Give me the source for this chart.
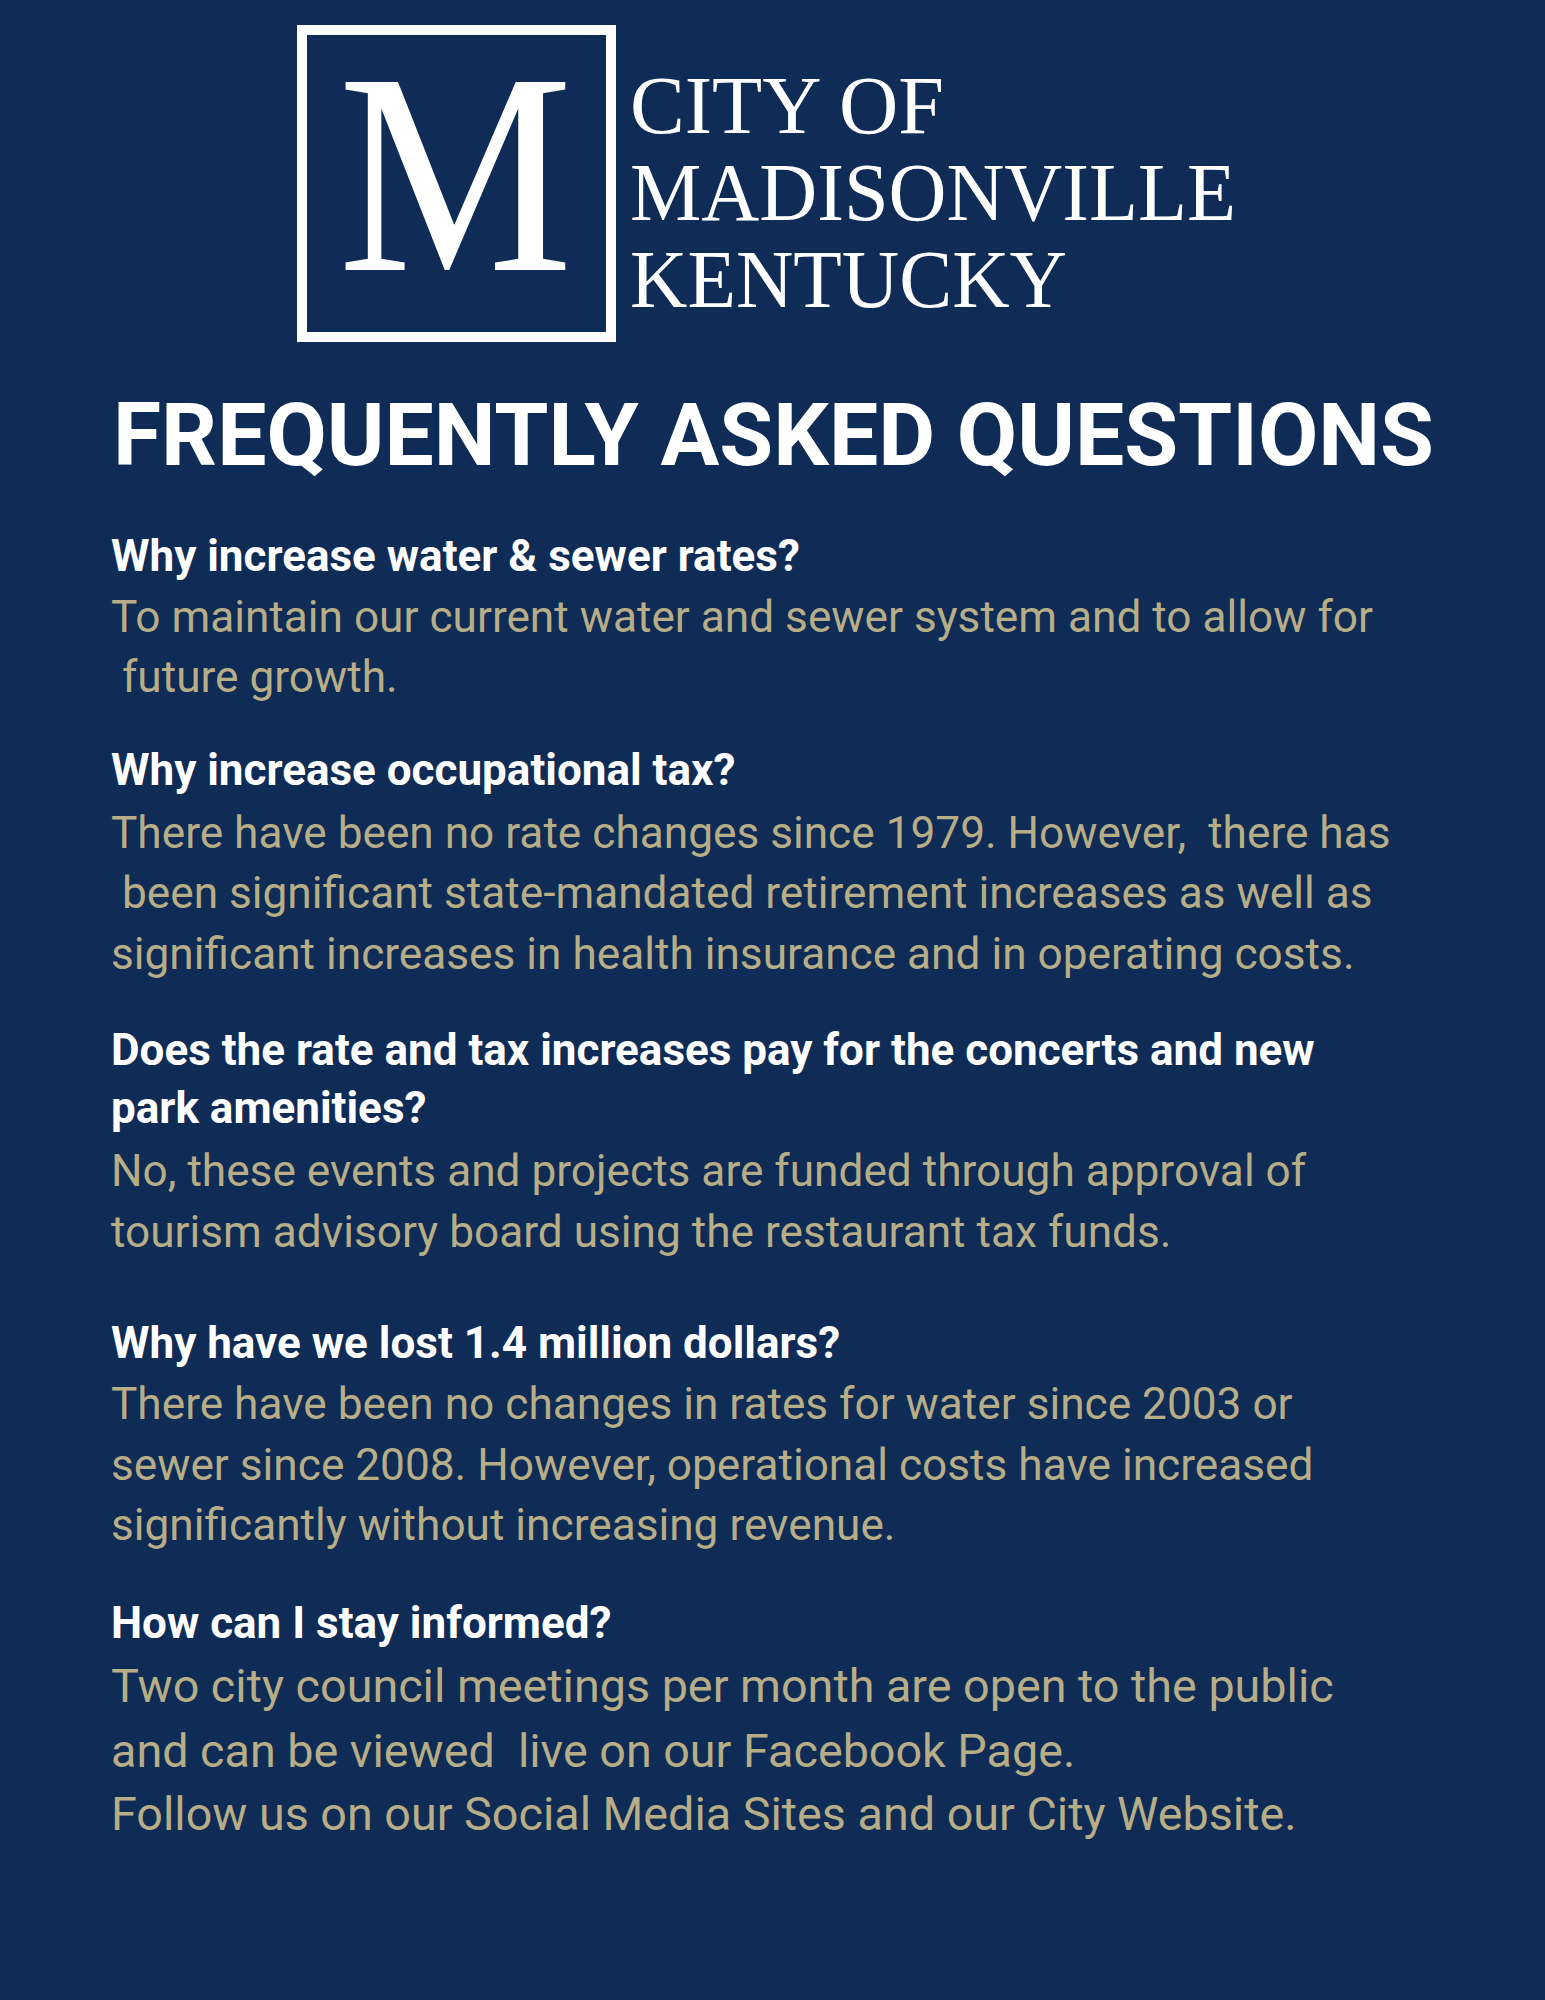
<!DOCTYPE html>
<html>
<head>
<meta charset="utf-8">
<script src="https://cdn.jsdelivr.net/npm/chart.js@4.4.1/dist/chart.umd.min.js"></script>
<style>
  html, body { margin:0; padding:0; }
  body { width:1545px; height:2000px; background:#0f2c56; position:relative; overflow:hidden; }
  .ln { position:absolute; white-space:pre; left:0; top:0; transform-origin:0 0; }
  .serif { font-family:"Liberation Serif","DejaVu Serif",serif; color:#ffffff; font-weight:400; }
  .title { font-family:Roboto,"Noto Sans",sans-serif; font-weight:700; color:#ffffff; }
  .q { font-family:Roboto,"Noto Sans",sans-serif; font-weight:700; color:#ffffff; }
  .a { font-family:Roboto,"Noto Sans",sans-serif; font-weight:400; color:#b7ad86; }
  #box { position:absolute; left:297px; top:25px; width:319px; height:317px; border:10px solid #ffffff; box-sizing:border-box; }
</style>
</head>
<body>
<div id="box"></div>
<div id="root"></div>
<script>
// ---- content ----
const logoLetter = "M";
const logoLines = ["CITY OF", "MADISONVILLE", "KENTUCKY"];
const heading = "FREQUENTLY ASKED QUESTIONS";
const questions = [
  ["Why increase water & sewer rates?"],
  ["Why increase occupational tax?"],
  ["Does the rate and tax increases pay for the concerts and new", "park amenities?"],
  ["Why have we lost 1.4 million dollars?"],
  ["How can I stay informed?"]
];
const answers = [
  ["To maintain our current water and sewer system and to allow for", " future growth."],
  ["There have been no rate changes since 1979. However,  there has", " been significant state-mandated retirement increases as well as", "significant increases in health insurance and in operating costs."],
  ["No, these events and projects are funded through approval of", "tourism advisory board using the restaurant tax funds."],
  ["There have been no changes in rates for water since 2003 or", "sewer since 2008. However, operational costs have increased", "significantly without increasing revenue."],
  ["Two city council meetings per month are open to the public", "and can be viewed  live on our Facebook Page.", "Follow us on our Social Media Sites and our City Website."]
];

// ---- layout (baselines in px) ----
const qBase = [[571], [785], [1065, 1123], [1358], [1638]];
const aBase = [[632, 692], [848, 908, 969], [1186, 1247], [1419, 1480, 1540], [1702, 1767, 1830]];
const leftX = 111;

const root = document.getElementById('root');
function makeLine(text, cls, size, x, base) {
  const d = document.createElement('div');
  d.className = 'ln ' + cls;
  d.style.fontSize = size + 'px';
  d.style.lineHeight = '1';
  const s = document.createElement('span');
  s.textContent = text;
  const m = document.createElement('span');
  m.style.display = 'inline-block'; m.style.width = '0'; m.style.height = '0'; m.style.verticalAlign = 'baseline';
  d.appendChild(s); d.appendChild(m);
  root.appendChild(d);
  const r = m.getBoundingClientRect();
  const dr = d.getBoundingClientRect();
  d.style.left = x + 'px';
  d.style.top = (base - (r.top - dr.top)) + 'px';
  return {d, s};
}
function scaleTo(el, w) {
  const sw = el.s.getBoundingClientRect().width;
  el.d.style.transform = 'scaleX(' + (w / sw) + ')';
}

function draw() {
  const M = makeLine(logoLetter, 'serif', 287, 338, 270);
  scaleTo(M, 235);
  const logoBase = [133, 220, 307];
  const logoW = [314, 606, 437];
  logoLines.forEach((t, i) => { const e = makeLine(t, 'serif', 83, 630, logoBase[i]); scaleTo(e, logoW[i]); });
  const h = makeLine(heading, 'title', 88, 113, 465);
  scaleTo(h, 1321);
  questions.forEach((lines, i) => lines.forEach((t, j) => makeLine(t, 'q', 44, leftX, qBase[i][j])));
  answers.forEach((lines, i) => lines.forEach((t, j) => makeLine(t, 'a', i === 4 ? 46.7 : 44.2, leftX, aBase[i][j])));
}
document.fonts.ready.then(draw);
</script>
</body>
</html>
